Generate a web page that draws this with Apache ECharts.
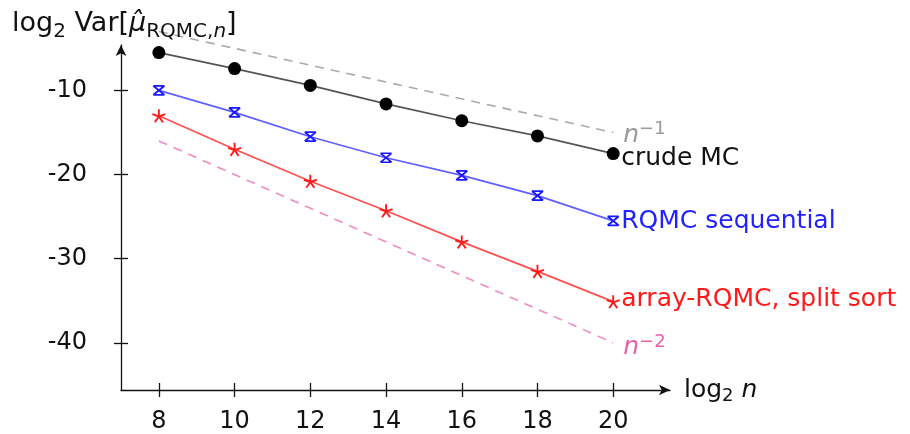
<!DOCTYPE html>
<html>
<head>
<meta charset="utf-8">
<script src="https://cdn.jsdelivr.net/npm/echarts@6/dist/echarts.min.js"></script>
<style>
  html, body { margin: 0; padding: 0; background: #fff; }
  #chart { width: 910px; height: 434px; }
</style>
</head>
<body>
<div id="chart"></div>
<script>
// log2 of sample size n
const logN = [8, 10, 12, 14, 16, 18, 20];
// log2 of the estimator variance for each method
const crudeMC = [-5.5, -7.4, -9.4, -11.6, -13.6, -15.4, -17.5];
const rqmcSequential = [-10.0, -12.6, -15.5, -18.0, -20.1, -22.5, -25.5];
const arrayRqmcSplitSort = [-13.0, -17.0, -20.8, -24.3, -28.0, -31.5, -35.1];
// reference slopes n^-1 and n^-2
const refX = [8, 20];
const refN1 = [-3, -15];
const refN2 = [-16, -40];
// tick positions
const xTicks = [8, 10, 12, 14, 16, 18, 20];
const yTicks = [-40, -30, -20, -10];

const FONT = 'DejaVu Sans';
const zip = (xs, ys) => xs.map((x, i) => [x, ys[i]]);

const crossMark = 'path://M0,0L10,10M10,0L0,10M0,0L10,0M0,10L10,10';
const starMark = 'path://M5,5L5,0M5,5L9.76,3.45M5,5L7.94,9.05M5,5L2.06,9.05M5,5L0.24,3.45';

const axisColor = '#111';
const tickStyle = { color: axisColor, width: 1.3 };

const chart = echarts.init(document.getElementById('chart'));
chart.setOption({
  animation: false,
  backgroundColor: '#fff',
  title: {
    text: '{a|log}{s|2}{a| Var[}{i|μ̂}{s|RQMC,}{si|n}{a|]}',
    left: 7,
    top: 1,
    textStyle: {
      fontWeight: 'normal',
      rich: {
        a: { fontFamily: FONT, fontSize: 27, fontWeight: 'normal', color: '#111', lineHeight: 36 },
        i: { fontFamily: FONT, fontSize: 27, fontWeight: 'normal', fontStyle: 'italic', color: '#111', lineHeight: 36 },
        s: { fontFamily: FONT, fontSize: 20, fontWeight: 'normal', color: '#111', verticalAlign: 'bottom', lineHeight: 20 },
        si: { fontFamily: FONT, fontSize: 20, fontWeight: 'normal', fontStyle: 'italic', color: '#111', verticalAlign: 'bottom', lineHeight: 20 }
      }
    }
  },
  grid: { left: 121, right: 240, top: 45, bottom: 44, containLabel: false },
  xAxis: [{
    type: 'value', min: 7, max: 21.5,
    splitLine: { show: false },
    axisLine: { onZero: false, lineStyle: { color: axisColor, width: 1.3 }, symbol: ['none', 'arrow'], symbolSize: [8, 11] },
    axisTick: { customValues: xTicks, length: 7, lineStyle: tickStyle },
    axisLabel: { customValues: xTicks, fontFamily: FONT, fontSize: 24, color: '#111', margin: 20 },
    name: '{a|log}{s|2}{i| n}',
    nameLocation: 'end',
    nameGap: 14,
    nameTextStyle: {
      rich: {
        a: { fontFamily: FONT, fontSize: 25, color: '#111', lineHeight: 30 },
        i: { fontFamily: FONT, fontSize: 25, fontStyle: 'italic', color: '#111', lineHeight: 30 },
        s: { fontFamily: FONT, fontSize: 18, color: '#111', verticalAlign: 'bottom', lineHeight: 18 }
      }
    }
  }, {
    type: 'value', min: 7, max: 21.5, position: 'bottom',
    splitLine: { show: false },
    axisLine: { show: false },
    axisTick: { inside: true, customValues: xTicks, length: 7, lineStyle: tickStyle },
    axisLabel: { show: false }
  }],
  yAxis: [{
    type: 'value', min: -45.6, max: -4.6,
    splitLine: { show: false },
    axisLine: { onZero: false, lineStyle: { color: axisColor, width: 1.3 }, symbol: ['none', 'arrow'], symbolSize: [8, 11] },
    axisTick: { customValues: yTicks, length: 7, lineStyle: tickStyle },
    axisLabel: { customValues: yTicks, fontFamily: FONT, fontSize: 24, color: '#111', margin: 34, formatter: v => String(v) }
  }, {
    type: 'value', min: -45.6, max: -4.6, position: 'left',
    splitLine: { show: false },
    axisLine: { show: false },
    axisTick: { inside: true, customValues: yTicks, length: 7, lineStyle: tickStyle },
    axisLabel: { show: false }
  }],
  series: [
    {
      name: 'n^-1', type: 'line', data: zip(refX, refN1), showSymbol: false, clip: false,
      lineStyle: { color: '#aaaaaa', width: 1.6, type: [9, 7] },
      endLabel: {
        show: true, distance: 10, offset: [0, 3],
        formatter: '{i|n}{s|−1}',
        rich: {
          i: { fontFamily: FONT, fontSize: 25, fontStyle: 'italic', color: '#999', lineHeight: 30 },
          s: { fontFamily: FONT, fontSize: 18, color: '#999', verticalAlign: 'top', lineHeight: 14 }
        }
      }
    },
    {
      name: 'n^-2', type: 'line', data: zip(refX, refN2), showSymbol: false,
      lineStyle: { color: '#f08cc0', width: 1.6, type: [9, 7] },
      endLabel: {
        show: true, distance: 10, offset: [0, 5],
        formatter: '{i|n}{s|−2}',
        rich: {
          i: { fontFamily: FONT, fontSize: 25, fontStyle: 'italic', color: '#e860a8', lineHeight: 30 },
          s: { fontFamily: FONT, fontSize: 18, color: '#e860a8', verticalAlign: 'top', lineHeight: 14 }
        }
      }
    },
    {
      name: 'crude MC', type: 'line', data: zip(logN, crudeMC),
      symbol: 'circle', symbolSize: 13,
      itemStyle: { color: '#000' },
      lineStyle: { color: '#555', width: 1.7 },
      endLabel: { show: true, formatter: 'crude MC', distance: 8, offset: [0, 5], fontFamily: FONT, fontSize: 25, color: '#111' }
    },
    {
      name: 'RQMC sequential', type: 'line', data: zip(logN, rqmcSequential),
      symbol: crossMark, symbolSize: [11, 9],
      itemStyle: { color: 'rgba(0,0,0,0)', borderColor: '#1a1aff', borderWidth: 1.9 },
      lineStyle: { color: '#6060ff', width: 1.7 },
      endLabel: { show: true, formatter: 'RQMC sequential', distance: 8, offset: [0, 1], fontFamily: FONT, fontSize: 25, color: '#2222ff' }
    },
    {
      name: 'array-RQMC, split sort', type: 'line', data: zip(logN, arrayRqmcSplitSort),
      symbol: starMark, symbolSize: 13,
      itemStyle: { color: 'rgba(0,0,0,0)', borderColor: '#ff1a1a', borderWidth: 1.9 },
      lineStyle: { color: '#ff5050', width: 1.7 },
      endLabel: { show: true, formatter: 'array-RQMC, split sort', distance: 8, offset: [0, -2], fontFamily: FONT, fontSize: 25, color: '#ff1a1a' }
    }
  ]
});
</script>
</body>
</html>
